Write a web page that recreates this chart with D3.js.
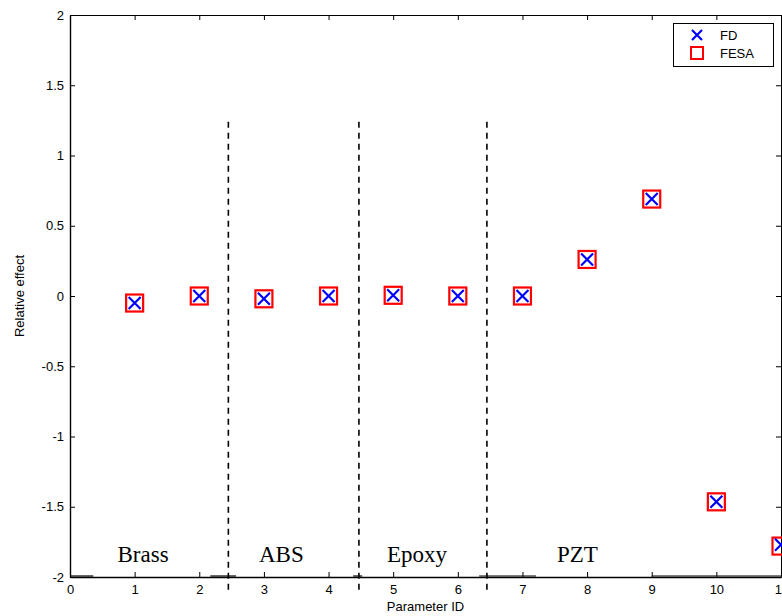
<!DOCTYPE html>
<html><head><meta charset="utf-8">
<script src="https://cdn.jsdelivr.net/npm/d3@7"></script>
<style>body{margin:0;background:#fff;} svg{display:block;}</style>
</head><body>
<script>
const paramIds = [1,2,3,4,5,6,7,8,9,10,11];
const fdValues = [-0.05,0.0,-0.02,0.0,0.005,0.0,0.0,0.26,0.69,-1.465,-1.77];
const fesaValues = [-0.05,0.0,-0.02,0.0,0.005,0.0,0.0,0.26,0.69,-1.465,-1.78];
const xTicks = [0,1,2,3,4,5,6,7,8,9,10,11];
const yTicks = [-2,-1.5,-1,-0.5,0,0.5,1,1.5,2];
const separators = [2.45,4.47,6.45];
const groupNames = ["Brass","ABS","Epoxy","PZT"];
const groupCenters = [1.13,3.27,5.37,7.85];
const baseSegs = [[0,0.36],[2.17,2.57],[4.38,4.52],[6.33,7.21],[9.0,11]];

const W=782,H=616;
const svg=d3.select("body").append("svg").attr("width",W).attr("height",H);
const L=70,T=15,R=781,B=577;
const x=d3.scaleLinear().domain([0,11]).range([L,R]);
const y=d3.scaleLinear().domain([-2,2]).range([B,T]);

const g=svg.append("g");
const fmt=d=>String(d);
const axB=g.append("g").attr("transform",`translate(0,${B})`).call(d3.axisBottom(x).tickValues(xTicks).tickSize(-5).tickSizeOuter(0).tickPadding(8).tickFormat(fmt));
const axL=g.append("g").attr("transform",`translate(${L},0)`).call(d3.axisLeft(y).tickValues(yTicks).tickSize(-5).tickSizeOuter(0).tickPadding(6).tickFormat(fmt));
const axT=g.append("g").attr("transform",`translate(0,${T})`).call(d3.axisTop(x).tickValues(xTicks).tickSize(-5).tickSizeOuter(0).tickFormat(""));
const axR=g.append("g").attr("transform",`translate(${R},0)`).call(d3.axisRight(y).tickValues(yTicks).tickSize(-5).tickSizeOuter(0).tickFormat(""));
[axB,axL,axT,axR].forEach(a=>{a.selectAll("path,line").attr("stroke","#000").attr("stroke-width",1);
  a.selectAll("text").attr("font-family","Arial, 'Liberation Sans', sans-serif").attr("font-size",13).attr("fill","#000");});
axB.select(".domain").attr("stroke-width",1.4);
axL.select(".domain").attr("stroke-width",1.4);

// baseline segments just above the bottom axis
g.selectAll(".seg").data(baseSegs).enter().append("line")
 .attr("x1",d=>x(d[0])).attr("x2",d=>x(d[1])).attr("y1",B-1).attr("y2",B-1)
 .attr("stroke","#000").attr("stroke-width",1.2);

// separators
g.selectAll(".sep").data(separators).enter().append("line")
 .attr("x1",d=>x(d)).attr("x2",d=>x(d)).attr("y1",y(1.24)).attr("y2",y(-2.11))
 .attr("stroke","#000").attr("stroke-width",1.6).attr("stroke-dasharray","6,5");

// group labels
g.selectAll(".grp").data(groupNames).enter().append("text")
 .attr("x",(d,i)=>x(groupCenters[i])).attr("y",y(-1.8)+13).attr("text-anchor","middle")
 .attr("font-family","'Liberation Serif','Times New Roman',serif").attr("font-size",23).text(d=>d);

// markers
const sq=17,xs=6;
g.selectAll(".fesa").data(paramIds).enter().append("rect")
 .attr("x",(d,i)=>x(d)-sq/2).attr("y",(d,i)=>y(fesaValues[i])-sq/2).attr("width",sq).attr("height",sq)
 .attr("fill","none").attr("stroke","#ff0000").attr("stroke-width",2.2);
g.selectAll(".fd").data(paramIds).enter().append("path")
 .attr("d",(d,i)=>{const cx=x(d),cy=y(fdValues[i]);return `M${cx-xs},${cy-xs}L${cx+xs},${cy+xs}M${cx-xs},${cy+xs}L${cx+xs},${cy-xs}`;})
 .attr("stroke","#0000ff").attr("stroke-width",2.2).attr("fill","none");

// axis labels
svg.append("text").attr("x",x(5.5)).attr("y",611).attr("text-anchor","middle")
 .attr("font-family","Arial, 'Liberation Sans', sans-serif").attr("font-size",13).text("Parameter ID");
svg.append("text").attr("transform",`translate(24,${y(0)}) rotate(-90)`).attr("text-anchor","middle")
 .attr("font-family","Arial, 'Liberation Sans', sans-serif").attr("font-size",13).text("Relative effect");

// legend
const lg=svg.append("g");
lg.append("rect").attr("x",673.5).attr("y",23.5).attr("width",100).attr("height",43).attr("fill","#fff").attr("stroke","#000").attr("stroke-width",1);
const lx=697,ly1=35,ly2=53;
lg.append("path").attr("d",`M${lx-5},${ly1-5}L${lx+5},${ly1+5}M${lx-5},${ly1+5}L${lx+5},${ly1-5}`).attr("stroke","#0000ff").attr("stroke-width",2.2);
lg.append("rect").attr("x",lx-6).attr("y",ly2-6).attr("width",12).attr("height",12).attr("fill","none").attr("stroke","#ff0000").attr("stroke-width",2);
lg.append("text").attr("x",720).attr("y",ly1+5).attr("font-family","Arial, 'Liberation Sans', sans-serif").attr("font-size",13).text("FD");
lg.append("text").attr("x",720).attr("y",ly2+5).attr("font-family","Arial, 'Liberation Sans', sans-serif").attr("font-size",13).text("FESA");
</script>
</body></html>
